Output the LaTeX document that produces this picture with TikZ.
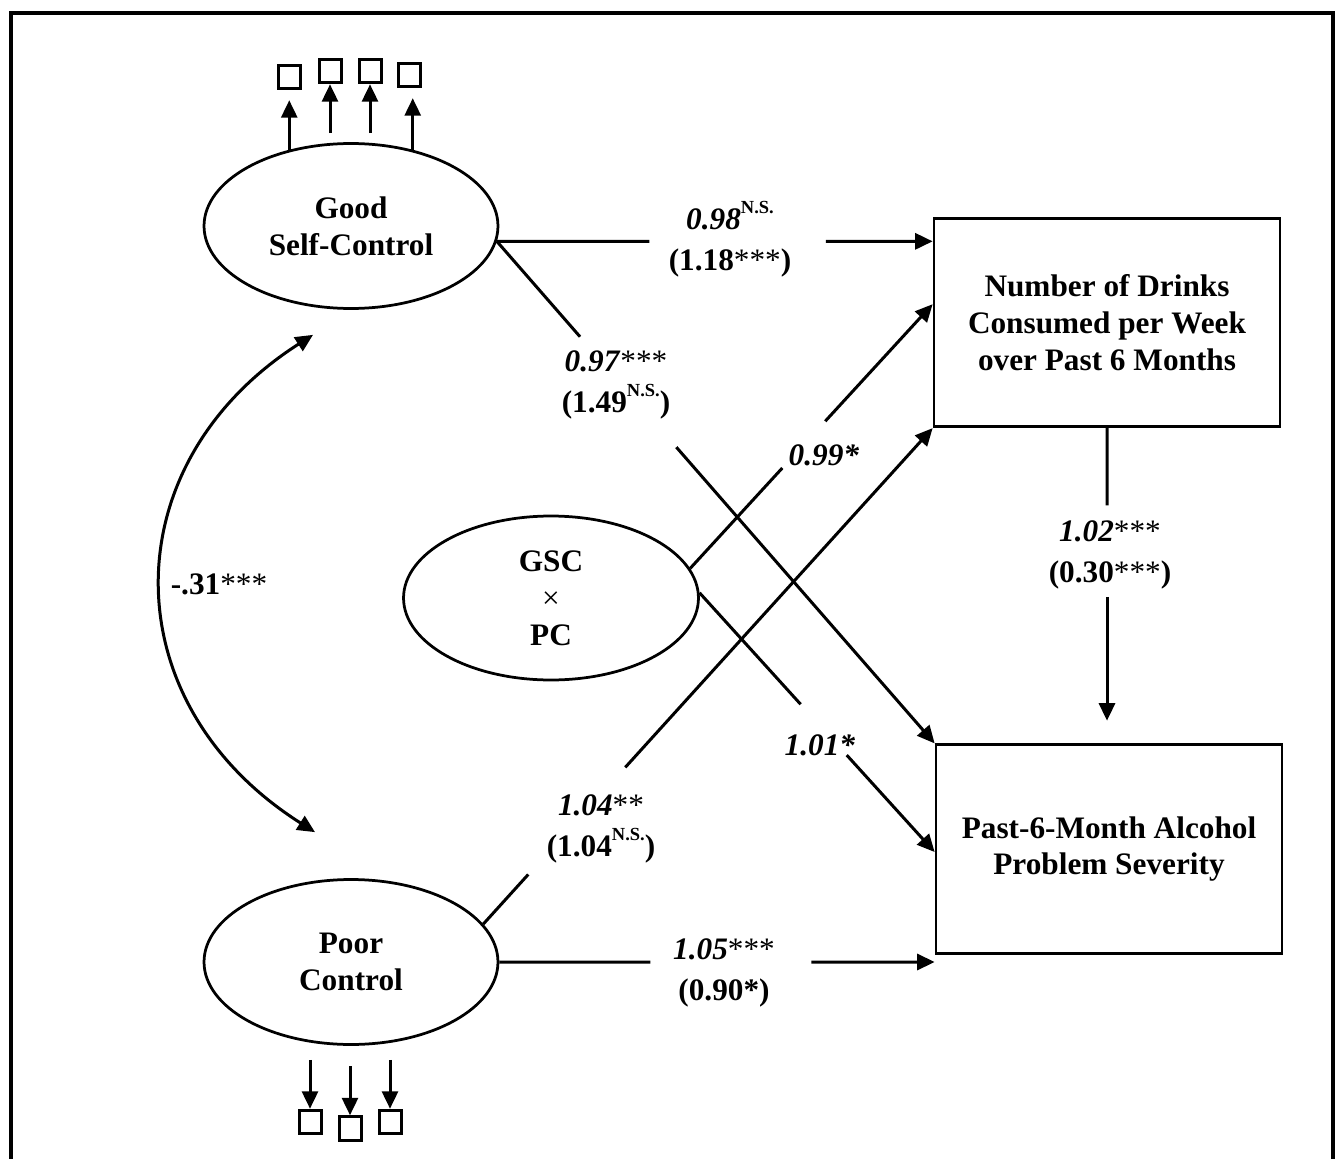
\documentclass[tikz,border=0pt]{standalone}
\usepackage{fontspec}
\setmainfont{Liberation Serif}
\usetikzlibrary{shapes.geometric,arrows.meta,calc}
\newcommand{\nsup}{\raisebox{0.52em}{\fontsize{10.5}{10.5}\selectfont N.S.}}
\newcommand{\sta}[1]{{\mdseries\upshape #1}}
\begin{document}
\begin{tikzpicture}[x=0.02cm,y=-0.02cm,
  every node/.style={font=\bfseries\fontsize{17.8}{21}\selectfont},
  latent/.style={ellipse, draw, line width=0.055cm, minimum width=5.88cm, minimum height=3.3cm, inner sep=0pt, align=center},
  obsbox/.style={rectangle, draw, line width=0.055cm, minimum width=6.92cm, minimum height=4.17cm, align=center},
  ind/.style={rectangle, draw, line width=0.06cm, minimum width=0.44cm, minimum height=0.47cm, inner sep=0pt},
  conn/.style={line width=0.06cm},
  arr/.style={conn, -{Triangle[length=0.35cm,width=0.32cm]}},
  lab/.style={align=center, inner sep=1pt, font=\bfseries\fontsize{17.8}{23}\selectfont},
]
\useasboundingbox (0,0) rectangle (1343,1159);
% frame
\draw[line width=0.07cm] (11,1159) -- (11,13) -- (1333,13) -- (1333,1159);

% main nodes
\node[latent] (good) at (351,226) {Good\\Self-Control};
\node[latent, minimum width=5.9cm, minimum height=3.28cm] (gscpc) at (551,598) {GSC\\{\mdseries ×}\\PC};
\node[latent] (poor) at (351,962) {Poor\\Control};
\node[obsbox] (drinks) at (1107,322.5) {Number of Drinks\\Consumed per Week\\over Past 6 Months};
\node[obsbox] (sev) at (1109,849) {Past-6-Month Alcohol\\Problem Severity};

% indicators
\node[ind] (b1) at (289.5,77) {};
\node[ind] (b2) at (330,71) {};
\node[ind] (b3) at (370,71) {};
\node[ind] (b4) at (409.5,75) {};
\node[ind] (c1) at (310,1122) {};
\node[ind] (c2) at (350,1128.5) {};
\node[ind] (c3) at (390,1122) {};

\draw[arr, shorten >=0.2cm] (good.129) -- (good.129 |- b1.south);
\draw[arr] ($(b2.south)+(0,49)$) -- (b2.south);
\draw[arr] ($(b3.south)+(0,49)$) -- (b3.south);
\draw[arr, shorten >=0.2cm] (good.51) -- (good.51 |- b4.south);
\draw[arr] ($(c1.north)+(0,-49)$) -- (c1.north);
\draw[arr] ($(c2.north)+(0,-49)$) -- (c2.north);
\draw[arr] ($(c3.north)+(0,-49)$) -- (c3.north);

% covariance
\coordinate (ca) at ($(good.south)+(-38,25)$);
\coordinate (cb) at ($(poor.north)+(-36,-46)$);
\draw[conn, {Triangle[length=0.35cm,width=0.32cm]}-{Triangle[length=0.35cm,width=0.32cm]}]
  (ca) .. controls (111,464) and (111,703) .. (cb);

% labels
\node[lab] (l1) at (730,239) {\textit{0.98}\nsup\\(1.18\sta{***})};
\node[lab] (l2) at (616,385) {\textit{0.97}\sta{***}\\(1.49\nsup)};
\node[lab] (l3) at (824,455) {\textit{0.99*}};
\node[lab] (l4) at (1110,555) {\textit{1.02}\sta{***}\\(0.30\sta{***})};
\node[lab] (l5) at (219,584) {-.31\sta{***}};
\node[lab] (l6) at (820,745) {\textit{1.01*}};
\node[lab] (l7) at (601,829) {\textit{1.04}\sta{**}\\(1.04\nsup)};
\node[lab] (l8) at (724,973) {\textit{1.05}\sta{***}\\(0.90*)};

% paths
\coordinate (gA) at (good.-6.4);
\coordinate (gB) at (gA -| drinks.west);
\draw[conn] (gA) -- ($(gA)!0.35!(gB)$);
\draw[arr] ($(gA)!0.755!(gB)$) -- (gB);

\draw[conn] (gA) -- ($(gA)!0.19!(sev.north west)$);
\draw[arr] ($(gA)!0.41!(sev.north west)$) -- (sev.north west);

\draw[conn] (gscpc.12) -- ($(gscpc.12)!0.38!(drinks.174)$);
\draw[arr] ($(gscpc.12)!0.557!(drinks.174)$) -- (drinks.174);

\draw[conn] (gscpc.2) -- ($(gscpc.2)!0.43!(sev.181)$);
\draw[arr] ($(gscpc.2)!0.626!(sev.181)$) -- (sev.181);

\draw[conn] (poor.16) -- ($(poor.16)!0.10!(drinks.south west)$);
\draw[arr] ($(poor.16)!0.316!(drinks.south west)$) -- (drinks.south west);

\coordinate (pB) at (poor.east -| sev.west);
\draw[conn] (poor.east) -- ($(poor.east)!0.347!(pB)$);
\draw[arr] ($(poor.east)!0.717!(pB)$) -- (pB);

\coordinate (dB) at (drinks.south |- sev.north);
\draw[conn] (drinks.south) -- ($(drinks.south)!0.245!(dB)$);
\draw[arr] ($(drinks.south)!0.535!(dB)$) -- ($(drinks.south)!0.928!(dB)$);
\end{tikzpicture}
\end{document}
